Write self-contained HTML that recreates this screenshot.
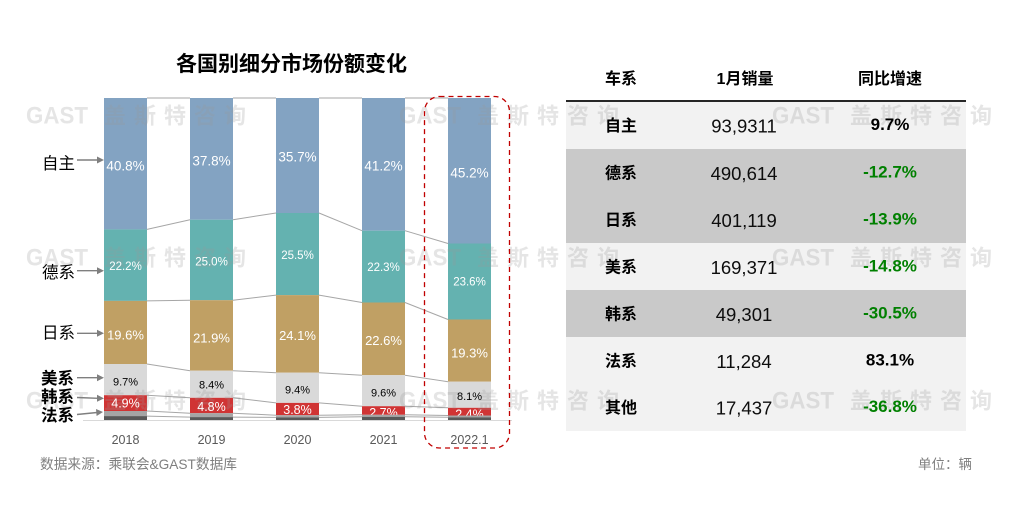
<!DOCTYPE html>
<html><head><meta charset="utf-8"><style>
html,body{margin:0;padding:0;background:#fff;}
svg{display:block;font-family:"Liberation Sans","Noto Sans CJK SC",sans-serif;}
</style></head><body>
<svg width="1019" height="508" viewBox="0 0 1019 508" xmlns="http://www.w3.org/2000/svg">
<rect x="0" y="0" width="1019" height="508" fill="#fff"/>
<!-- title -->
<text x="291.5" y="71" font-size="21" font-weight="bold" text-anchor="middle" fill="#000">各国别细分市场份额变化</text>

<!-- connector lines -->
<g stroke="#A6A6A6" stroke-width="1" fill="none">
<line x1="147" y1="98" x2="190" y2="98"/><line x1="233" y1="98" x2="276" y2="98"/><line x1="319" y1="98" x2="362" y2="98"/><line x1="405" y1="98" x2="448" y2="98"/>
<line x1="147" y1="229.4" x2="190" y2="219.7"/><line x1="233" y1="219.7" x2="276" y2="213"/><line x1="319" y1="213" x2="362" y2="230.7"/><line x1="405" y1="230.7" x2="448" y2="243.5"/>
<line x1="147" y1="300.9" x2="190" y2="300.2"/><line x1="233" y1="300.2" x2="276" y2="295.1"/><line x1="319" y1="295.1" x2="362" y2="302.5"/><line x1="405" y1="302.5" x2="448" y2="319.5"/>
<line x1="147" y1="364" x2="190" y2="370.7"/><line x1="233" y1="370.7" x2="276" y2="372.7"/><line x1="319" y1="372.7" x2="362" y2="375.2"/><line x1="405" y1="375.2" x2="448" y2="381.7"/>
<line x1="147" y1="395.2" x2="190" y2="397.8"/><line x1="233" y1="397.8" x2="276" y2="402.9"/><line x1="319" y1="402.9" x2="362" y2="406.2"/><line x1="405" y1="406.2" x2="448" y2="407.8"/>
<line x1="147" y1="411" x2="190" y2="413.2"/><line x1="233" y1="413.2" x2="276" y2="415.2"/><line x1="319" y1="415.2" x2="362" y2="414.8"/><line x1="405" y1="414.8" x2="448" y2="415.5"/>
<line x1="147" y1="416.1" x2="190" y2="417.1"/><line x1="233" y1="417.1" x2="276" y2="417.4"/><line x1="319" y1="417.4" x2="362" y2="416.8"/><line x1="405" y1="416.8" x2="448" y2="417.3"/>
</g>
<!-- axis -->
<line x1="83" y1="420.5" x2="512" y2="420.5" stroke="#D9D9D9" stroke-width="1"/>

<!-- bars upper segments -->
<g>
<rect x="104" y="98" width="43" height="131.4" fill="#83A3C2"/>
<rect x="104" y="229.4" width="43" height="71.5" fill="#64B2B0"/>
<rect x="104" y="300.9" width="43" height="63.1" fill="#C0A064"/>
<rect x="104" y="364" width="43" height="31.2" fill="#D9D9D9"/>
<rect x="104" y="395.2" width="43" height="15.8" fill="#D03434"/>
<rect x="190" y="98" width="43" height="121.7" fill="#83A3C2"/>
<rect x="190" y="219.7" width="43" height="80.5" fill="#64B2B0"/>
<rect x="190" y="300.2" width="43" height="70.5" fill="#C0A064"/>
<rect x="190" y="370.7" width="43" height="27.1" fill="#D9D9D9"/>
<rect x="190" y="397.8" width="43" height="15.4" fill="#D03434"/>
<rect x="276" y="98" width="43" height="115" fill="#83A3C2"/>
<rect x="276" y="213" width="43" height="82.1" fill="#64B2B0"/>
<rect x="276" y="295.1" width="43" height="77.6" fill="#C0A064"/>
<rect x="276" y="372.7" width="43" height="30.2" fill="#D9D9D9"/>
<rect x="276" y="402.9" width="43" height="12.3" fill="#D03434"/>
<rect x="362" y="98" width="43" height="132.7" fill="#83A3C2"/>
<rect x="362" y="230.7" width="43" height="71.8" fill="#64B2B0"/>
<rect x="362" y="302.5" width="43" height="72.7" fill="#C0A064"/>
<rect x="362" y="375.2" width="43" height="31" fill="#D9D9D9"/>
<rect x="362" y="406.2" width="43" height="8.6" fill="#D03434"/>
<rect x="448" y="98" width="43" height="145.5" fill="#83A3C2"/>
<rect x="448" y="243.5" width="43" height="76" fill="#64B2B0"/>
<rect x="448" y="319.5" width="43" height="62.2" fill="#C0A064"/>
<rect x="448" y="381.7" width="43" height="26.1" fill="#D9D9D9"/>
<rect x="448" y="407.8" width="43" height="7.7" fill="#D03434"/>
</g>

<!-- table backgrounds -->
<rect x="566" y="101" width="400" height="48" fill="#F2F2F2"/>
<rect x="566" y="149" width="400" height="94" fill="#C9C9C9"/>
<rect x="566" y="243" width="400" height="47" fill="#F2F2F2"/>
<rect x="566" y="290" width="400" height="47" fill="#C9C9C9"/>
<rect x="566" y="337" width="400" height="94" fill="#F2F2F2"/>
<line x1="566" y1="101" x2="966" y2="101" stroke="#262626" stroke-width="2"/>

<!-- watermarks -->
<g font-weight="bold" fill="#9A9A9A" opacity="0.25">
<text x="26" y="123.3" font-size="24"><tspan textLength="62" lengthAdjust="spacingAndGlyphs">GAST</tspan><tspan x="104" font-size="22" letter-spacing="8">盖斯特咨询</tspan></text>
<text x="399" y="123.3" font-size="24"><tspan textLength="62" lengthAdjust="spacingAndGlyphs">GAST</tspan><tspan x="477" font-size="22" letter-spacing="8">盖斯特咨询</tspan></text>
<text x="772" y="123.3" font-size="24"><tspan textLength="62" lengthAdjust="spacingAndGlyphs">GAST</tspan><tspan x="850" font-size="22" letter-spacing="8">盖斯特咨询</tspan></text>
<text x="26" y="265.7" font-size="24"><tspan textLength="62" lengthAdjust="spacingAndGlyphs">GAST</tspan><tspan x="104" font-size="22" letter-spacing="8">盖斯特咨询</tspan></text>
<text x="399" y="265.7" font-size="24"><tspan textLength="62" lengthAdjust="spacingAndGlyphs">GAST</tspan><tspan x="477" font-size="22" letter-spacing="8">盖斯特咨询</tspan></text>
<text x="772" y="265.7" font-size="24"><tspan textLength="62" lengthAdjust="spacingAndGlyphs">GAST</tspan><tspan x="850" font-size="22" letter-spacing="8">盖斯特咨询</tspan></text>
<text x="26" y="408.3" font-size="24"><tspan textLength="62" lengthAdjust="spacingAndGlyphs">GAST</tspan><tspan x="104" font-size="22" letter-spacing="8">盖斯特咨询</tspan></text>
<text x="399" y="408.3" font-size="24"><tspan textLength="62" lengthAdjust="spacingAndGlyphs">GAST</tspan><tspan x="477" font-size="22" letter-spacing="8">盖斯特咨询</tspan></text>
<text x="772" y="408.3" font-size="24"><tspan textLength="62" lengthAdjust="spacingAndGlyphs">GAST</tspan><tspan x="850" font-size="22" letter-spacing="8">盖斯特咨询</tspan></text>
</g>

<!-- bar labels -->
<g text-anchor="middle">
<g fill="#fff" font-size="13.5">
<text x="125.5" y="170.7">40.8%</text><text x="211.5" y="165.7">37.8%</text><text x="297.5" y="161.7">35.7%</text><text x="383.5" y="170.7">41.2%</text><text x="469.5" y="177.3">45.2%</text>
</g>
<g fill="#fff" font-size="11.5">
<text x="125.5" y="270">22.2%</text><text x="211.5" y="265.7">25.0%</text><text x="297.5" y="259">25.5%</text><text x="383.5" y="271">22.3%</text><text x="469.5" y="285.7">23.6%</text>
</g>
<g fill="#fff" font-size="13">
<text x="125.5" y="339.3">19.6%</text><text x="211.5" y="342.3">21.9%</text><text x="297.5" y="340">24.1%</text><text x="383.5" y="345">22.6%</text><text x="469.5" y="357.3">19.3%</text>
</g>
<g fill="#000" font-size="11">
<text x="125.5" y="385.7">9.7%</text><text x="211.5" y="388.3">8.4%</text><text x="297.5" y="393.3">9.4%</text><text x="383.5" y="396.7">9.6%</text><text x="469.5" y="400">8.1%</text>
</g>
<g fill="#fff" font-size="12.5">
<text x="125.5" y="407.3">4.9%</text><text x="211.5" y="411">4.8%</text><text x="297.5" y="414">3.8%</text><text x="383.5" y="417">2.7%</text><text x="469.5" y="418.5">2.4%</text>
</g>
</g>

<!-- bottom segments -->
<rect x="104" y="411" width="43" height="5.1" fill="#A5A5A5"/><rect x="104" y="416.1" width="43" height="3.9" fill="#595959"/>
<rect x="190" y="413.2" width="43" height="3.9" fill="#A5A5A5"/><rect x="190" y="417.1" width="43" height="2.9" fill="#595959"/>
<rect x="276" y="415.2" width="43" height="2.2" fill="#A5A5A5"/><rect x="276" y="417.4" width="43" height="2.6" fill="#595959"/>
<rect x="362" y="414.8" width="43" height="2" fill="#A5A5A5"/><rect x="362" y="416.8" width="43" height="3.2" fill="#595959"/>
<rect x="448" y="415.5" width="43" height="1.8" fill="#A5A5A5"/><rect x="448" y="417.3" width="43" height="2.7" fill="#595959"/>

<!-- x labels -->
<g fill="#595959" font-size="12.5" text-anchor="middle">
<text x="125.5" y="444">2018</text><text x="211.5" y="444">2019</text><text x="297.5" y="444">2020</text><text x="383.5" y="444">2021</text><text x="469.5" y="444">2022.1</text>
</g>

<!-- dashed highlight box -->
<rect x="424.5" y="96.5" width="85" height="351.5" rx="15" ry="15" fill="none" stroke="#C00000" stroke-width="1.3" stroke-dasharray="5,4"/>

<!-- left labels and arrows -->
<g fill="#000" font-size="16.5">
<text x="42" y="169">自主</text>
<text x="42" y="278">德系</text>
<text x="42" y="338.5">日系</text>
<text x="41" y="384" font-weight="bold">美系</text>
<text x="41" y="402.5" font-weight="bold">韩系</text>
<text x="41" y="421" font-weight="bold">法系</text>
</g>
<g stroke="#7F7F7F" stroke-width="1.4">
<line x1="77" y1="160" x2="98" y2="160"/>
<line x1="77" y1="270.7" x2="98" y2="270.7"/>
<line x1="77" y1="333.3" x2="98" y2="333.3"/>
<line x1="77" y1="377.7" x2="98" y2="377.7"/>
<line x1="77" y1="397.5" x2="98" y2="398.3"/>
<line x1="77" y1="414.5" x2="97" y2="412.5"/>
</g>
<g fill="#7F7F7F">
<polygon points="97,156.5 104,160 97,163.5"/>
<polygon points="97,267.2 104,270.7 97,274.2"/>
<polygon points="97,329.8 104,333.3 97,336.8"/>
<polygon points="97,374.2 104,377.7 97,381.2"/>
<polygon points="97,394.8 104,398.4 97,401.8"/>
<polygon points="96,409 103,412 96.6,416"/>
</g>

<!-- source / unit -->
<text x="40" y="469" font-size="14" fill="#7F7F7F" textLength="197" lengthAdjust="spacingAndGlyphs">数据来源：乘联会&amp;GAST数据库</text>
<text x="918" y="469" font-size="13.5" fill="#7F7F7F">单位：辆</text>

<!-- table header -->
<g font-size="16" font-weight="bold" fill="#000" text-anchor="middle">
<text x="621" y="84">车系</text>
<text x="745" y="84">1月销量</text>
<text x="890" y="84">同比增速</text>
</g>
<g font-size="16" font-weight="bold" fill="#000">
<text x="605" y="131">自主</text>
<text x="605" y="178.5">德系</text>
<text x="605" y="225.5">日系</text>
<text x="605" y="272.5">美系</text>
<text x="605" y="319.5">韩系</text>
<text x="605" y="366.5">法系</text>
<text x="605" y="413">其他</text>
</g>
<g font-size="18.5" fill="#0D0D0D" text-anchor="middle">
<text x="744" y="132.3">93,9311</text>
<text x="744" y="180">490,614</text>
<text x="744" y="227">401,119</text>
<text x="744" y="274">169,371</text>
<text x="744" y="321">49,301</text>
<text x="744" y="368">11,284</text>
<text x="744" y="414.5">17,437</text>
</g>
<g font-size="17" font-weight="bold" text-anchor="middle">
<text x="890" y="130" fill="#000">9.7%</text>
<text x="890" y="177.3" fill="#008000">-12.7%</text>
<text x="890" y="224.5" fill="#008000">-13.9%</text>
<text x="890" y="271.5" fill="#008000">-14.8%</text>
<text x="890" y="318.5" fill="#008000">-30.5%</text>
<text x="890" y="365.5" fill="#000">83.1%</text>
<text x="890" y="412" fill="#008000">-36.8%</text>
</g>
</svg>
</body></html>
